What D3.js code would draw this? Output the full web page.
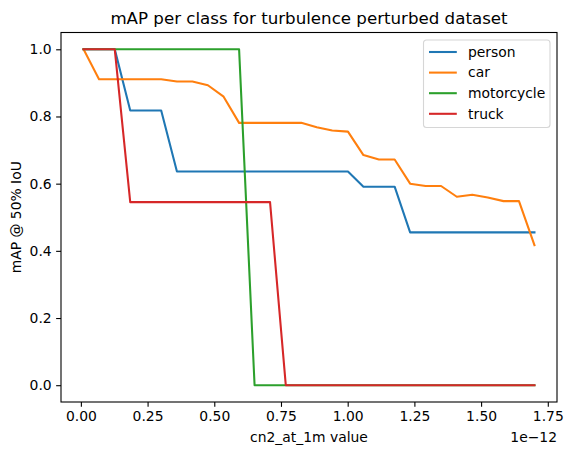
<!doctype html>
<html lang="en">
<head>
    <meta charset="UTF-8">
    <title>mAP per class</title>
    <style>
        body { margin: 0; background: #fff; }
        text { font-family: 'DejaVu Sans', sans-serif; fill: #000; }
        .tick text { font-size: 13.9px; }
        .line { fill: none; stroke-width: 2.08; stroke-linejoin: round; stroke-linecap: square; }
    </style>
</head>
<body>
<div class="chart"></div>

<script src="https://d3js.org/d3.v7.min.js"></script>
<script>
    // cn2_at_1m values, in units of 1e-12
    const cn2 = [0.010, 0.068, 0.127, 0.185, 0.243, 0.301, 0.360, 0.418, 0.476, 0.535,
                 0.593, 0.651, 0.709, 0.768, 0.826, 0.884, 0.942, 1.001, 1.059, 1.117,
                 1.176, 1.234, 1.292, 1.350, 1.409, 1.467, 1.525, 1.584, 1.642, 1.700]

    const classes = ['person', 'car', 'motorcycle', 'truck']

    const person = [1.0, 1.0, 1.0, 0.818, 0.818, 0.818, 0.636, 0.636, 0.636, 0.636,
                    0.636, 0.636, 0.636, 0.636, 0.636, 0.636, 0.636, 0.636, 0.591, 0.591,
                    0.591, 0.455, 0.455, 0.455, 0.455, 0.455, 0.455, 0.455, 0.455, 0.455]
    const car = [1.0, 0.911, 0.911, 0.911, 0.911, 0.911, 0.904, 0.904, 0.893, 0.859,
                 0.781, 0.781, 0.781, 0.781, 0.781, 0.768, 0.758, 0.755, 0.685, 0.672,
                 0.672, 0.600, 0.593, 0.593, 0.561, 0.567, 0.559, 0.548, 0.548, 0.417]
    const motorcycle = [1, 1, 1, 1, 1, 1, 1, 1, 1, 1,
                        1, 0, 0, 0, 0, 0, 0, 0, 0, 0,
                        0, 0, 0, 0, 0, 0, 0, 0, 0, 0]
    const truck = [1, 1, 1, 0.545, 0.545, 0.545, 0.545, 0.545, 0.545, 0.545,
                   0.545, 0.545, 0.545, 0, 0, 0, 0, 0, 0, 0,
                   0, 0, 0, 0, 0, 0, 0, 0, 0, 0]

    const xTicks = [0, 0.25, 0.5, 0.75, 1.0, 1.25, 1.5, 1.75]
    const yTicks = [0, 0.2, 0.4, 0.6, 0.8, 1.0]

    const colors = ['#1f77b4', '#ff7f0e', '#2ca02c', '#d62728']
    const seriesValues = [person, car, motorcycle, truck]

    const W = 573, H = 455
    const box = { left: 61, right: 557, top: 32.5, bottom: 402 }

    const svg = d3.select('.chart')
        .append('svg')
        .attr('width', W)
        .attr('height', H)

    // scales with matplotlib style 5% margins
    const xr = d3.extent(cn2), xPad = (xr[1] - xr[0]) * 0.05
    const xScale = d3.scaleLinear()
        .domain([xr[0] - xPad, xr[1] + xPad])
        .range([box.left, box.right])
    const yScale = d3.scaleLinear()
        .domain([-0.05, 1.05])
        .range([box.bottom, box.top])

    // lines
    const line = d3.line()
        .x((d, i) => xScale(cn2[i]))
        .y(d => yScale(d))
    seriesValues.forEach(function(vals, i) {
        svg.append('path')
            .datum(vals)
            .attr('class', 'line')
            .attr('stroke', colors[i])
            .attr('d', line)
    })

    // axes
    const xAxis = d3.axisBottom(xScale)
        .tickValues(xTicks)
        .tickFormat(d3.format('.2f'))
        .tickSize(4.86)
        .tickPadding(4)
    svg.append('g')
        .attr('transform', 'translate(0,' + box.bottom + ')')
        .call(xAxis)
        .call(g => g.select('.domain').remove())

    const yAxis = d3.axisLeft(yScale)
        .tickValues(yTicks)
        .tickFormat(d3.format('.1f'))
        .tickSize(4.86)
        .tickPadding(4.5)
    svg.append('g')
        .attr('transform', 'translate(' + box.left + ',0)')
        .call(yAxis)
        .call(g => g.select('.domain').remove())

    svg.selectAll('.tick line').attr('stroke', '#000').attr('stroke-width', 1.1)
    svg.selectAll('.tick text').attr('fill', '#000')

    // frame
    svg.append('rect')
        .attr('x', box.left)
        .attr('y', box.top)
        .attr('width', box.right - box.left)
        .attr('height', box.bottom - box.top)
        .attr('fill', 'none')
        .attr('stroke', '#000')
        .attr('stroke-width', 1.1)

    // texts
    svg.append('text')
        .attr('x', (box.left + box.right) / 2)
        .attr('y', 24.3)
        .attr('text-anchor', 'middle')
        .style('font-size', '16.67px')
        .text('mAP per class for turbulence perturbed dataset')

    svg.append('text')
        .attr('x', (box.left + box.right) / 2)
        .attr('y', 441.5)
        .attr('text-anchor', 'middle')
        .style('font-size', '13.9px')
        .text('cn2_at_1m value')

    svg.append('text')
        .attr('x', box.right)
        .attr('y', 441.5)
        .attr('text-anchor', 'end')
        .style('font-size', '13.9px')
        .text('1e\u221212')

    svg.append('text')
        .attr('transform', 'translate(21,' + (box.top + box.bottom) / 2 + ') rotate(-90)')
        .attr('text-anchor', 'middle')
        .style('font-size', '13.9px')
        .text('mAP @ 50% IoU')

    // legend
    const legend = svg.append('g')
        .attr('transform', 'translate(423.5,40)')
    legend.append('rect')
        .attr('width', 126.5)
        .attr('height', 87.5)
        .attr('rx', 3)
        .attr('fill', 'rgba(255,255,255,0.8)')
        .attr('stroke', '#d6d6d6')
        .attr('stroke-width', 1.1)
    classes.forEach(function(name, i) {
        const y = 12 + i * 20.6
        legend.append('line')
            .attr('x1', 5.5)
            .attr('x2', 33.3)
            .attr('y1', y)
            .attr('y2', y)
            .attr('stroke', colors[i])
            .attr('stroke-width', 2.08)
        legend.append('text')
            .attr('x', 44.5)
            .attr('y', y)
            .attr('dy', '0.35em')
            .style('font-size', '13.9px')
            .text(name)
    })
</script>
</body>
</html>
